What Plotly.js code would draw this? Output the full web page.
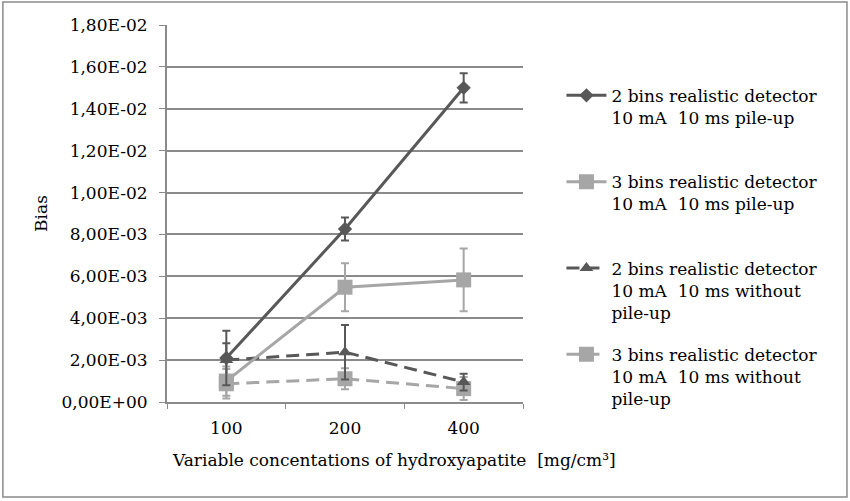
<!DOCTYPE html>
<html>
<head>
<meta charset="utf-8">
<script src="https://cdn.plot.ly/plotly-3.0.1.min.js"></script>
<style>
  html, body { margin: 0; padding: 0; background: #fff; }
  #app { width: 850px; height: 501px; }
</style>
</head>
<body>
<div id="app"></div>
<script>
// concentrations (x categories)
const categories = ['100', '200', '400']

// bias values
const bins2Pile = [0.00210, 0.00826, 0.01500]
const bins2PileErr = [0.00130, 0.00055, 0.00070]
const bins3Pile = [0.00100, 0.00548, 0.00583]
const bins3PileErr = [0.00070, 0.00115, 0.00150]
const bins2NoPile = [0.00200, 0.00238, 0.00095]
const bins2NoPileErr = [0.00080, 0.00130, 0.00040]
const bins3NoPile = [0.00087, 0.00111, 0.00064]
const bins3NoPileErr = [0.00070, 0.00050, 0.00055]

// two-line names get a blank third line so every legend slot is the same height
const names = [
  '2 bins realistic detector<br>10 mA  10 ms pile-up<br>\u00a0',
  '3 bins realistic detector<br>10 mA  10 ms pile-up<br>\u00a0',
  '2 bins realistic detector<br>10 mA  10 ms without<br>pile-up',
  '3 bins realistic detector<br>10 mA  10 ms without<br>pile-up'
]

const yTickVals = [0, 0.002, 0.004, 0.006, 0.008, 0.010, 0.012, 0.014, 0.016, 0.018]
const yTickText = ['0,00E+00', '2,00E-03', '4,00E-03', '6,00E-03', '8,00E-03',
  '1,00E-02', '1,20E-02', '1,40E-02', '1,60E-02', '1,80E-02']

const xTitle = 'Variable concentations of hydroxyapatite  [mg/cm³]'

const dark = '#585858'
const light = '#a6a6a6'

function series (y, err, name, color, symbol, size, dash, rank) {
  return {
    x: categories,
    y: y,
    name: name,
    legendgroup: 'g' + rank,
    legendrank: rank,
    type: 'scatter',
    mode: 'lines+markers',
    line: { color: color, width: 3, dash: dash },
    marker: { color: color, symbol: symbol, size: size },
    error_y: { type: 'data', array: err, visible: true, color: color, thickness: 2, width: 4 }
  }
}

const longDash = '13px,7px'

const traces = [
  series(bins2Pile, bins2PileErr, names[0], dark, 'diamond', 11, 'solid', 1),
  series(bins3Pile, bins3PileErr, names[1], light, 'square', 15, 'solid', 2),
  series(bins2NoPile, bins2NoPileErr, names[2], dark, 'triangle-up', 12, longDash, 3),
  series(bins3NoPile, bins3NoPileErr, names[3], light, 'square', 15, longDash, 4)
]

// draw the pile-up lines on top
const order = [traces[3], traces[2], traces[1], traces[0]]

const font = { family: 'DejaVu Serif', size: 17, color: '#000' }

Plotly.newPlot('app', order, {
  width: 850,
  height: 501,
  margin: { l: 167, r: 327, t: 25, b: 99 },
  paper_bgcolor: '#fff',
  plot_bgcolor: '#fff',
  font: font,
  showlegend: true,
  legend: {
    x: 1.108, y: 0.86, xanchor: 'left', yanchor: 'top',
    traceorder: 'grouped',
    tracegroupgap: 17,
    valign: 'top',
    font: font,
    itemwidth: 40
  },
  xaxis: {
    type: 'category',
    categoryorder: 'array',
    categoryarray: categories,
    range: [-0.5, 2.5],
    tickson: 'boundaries',
    ticks: 'outside',
    ticklen: 5,
    tickcolor: '#8a8a8a',
    ticklabelstandoff: 10,
    showgrid: false,
    showline: true,
    linecolor: '#8a8a8a',
    linewidth: 2,
    tickfont: font
  },
  yaxis: {
    range: [0, 0.018],
    tickvals: yTickVals,
    ticktext: yTickText,
    ticks: 'outside',
    ticklen: 6,
    tickcolor: '#8a8a8a',
    ticklabelstandoff: 8,
    showgrid: true,
    gridcolor: '#8a8a8a',
    gridwidth: 1.5,
    zeroline: false,
    showline: true,
    linecolor: '#8a8a8a',
    linewidth: 2,
    tickfont: font,
    title: { text: 'Bias', font: font, standoff: 10 }
  },
  // the x title sits right of the plot centre in the picture, so it is an annotation
  annotations: [{
    text: xTitle, xref: 'paper', yref: 'paper',
    x: 0.638, y: -0.154, xanchor: 'center', yanchor: 'middle',
    showarrow: false, font: font
  }],
  shapes: [{
    type: 'rect', xref: 'paper', yref: 'paper',
    x0: -0.461, x1: 1.910, y0: -0.252, y1: 1.061,
    line: { color: '#8a8a8a', width: 1.5 }
  }]
}, { displayModeBar: false })
</script>
</body>
</html>
